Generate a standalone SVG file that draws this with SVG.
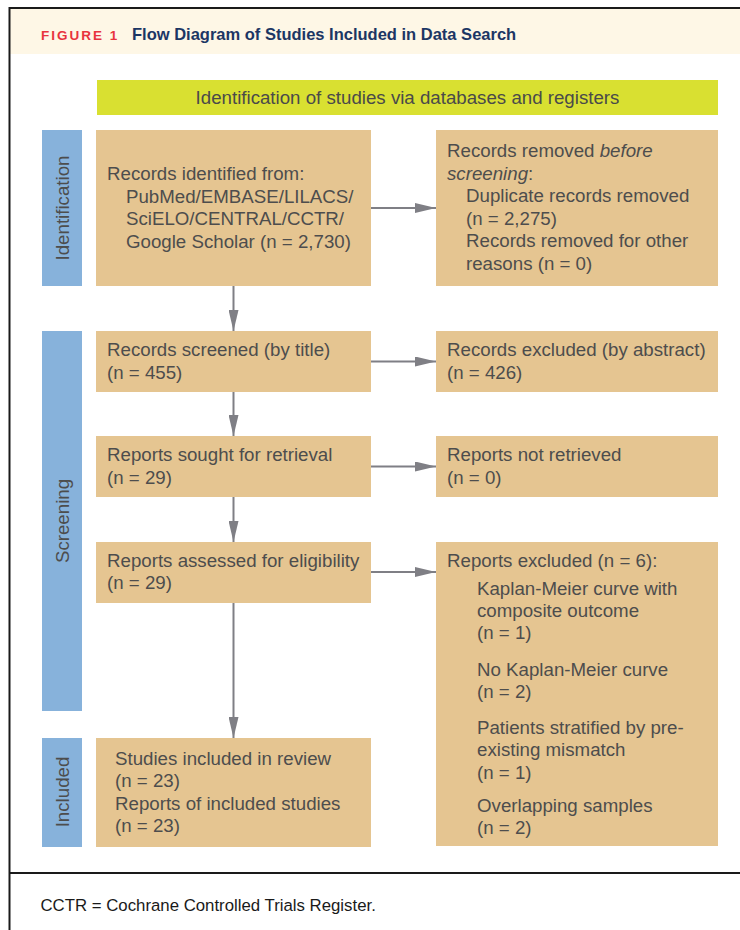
<svg xmlns="http://www.w3.org/2000/svg" width="740" height="930" viewBox="0 0 740 930">
<style>
  text { font-family: "Liberation Sans", Arial, sans-serif; }
  .box { fill: #E5C591; }
  .side { fill: #87B2DB; }
  .t { font-size: 18.7px; fill: #4D4D4D; }
  .side-t { font-size: 18.7px; fill: #4D4D4D; text-anchor: middle; }
  .conn { stroke: #7F7F85; stroke-width: 2; fill: none; }
</style>
<defs>
  <marker id="arr" viewBox="0 0 21 10" refX="21" refY="5" markerWidth="21" markerHeight="10" markerUnits="userSpaceOnUse" orient="auto">
    <path d="M0,0 L21,5 L0,10 z" fill="#7F7F85"/>
  </marker>
</defs>
<rect x="0" y="0" width="740" height="930" fill="#FFFFFF"/>
<g id="frame">
  <rect x="10" y="9" width="730" height="45" fill="#FEF7E6"/>
  <line x1="9" y1="8" x2="740" y2="8" stroke="#1A1A1A" stroke-width="2"/>
  <line x1="9.5" y1="7" x2="9.5" y2="930" stroke="#1A1A1A" stroke-width="2"/>
  <line x1="9" y1="873" x2="740" y2="873" stroke="#1A1A1A" stroke-width="2"/>
</g>
<g id="title">
  <text x="41" y="39.5" font-size="13.5px" font-weight="bold" fill="#E8333D" letter-spacing="2">FIGURE 1</text>
  <text x="132" y="39.5" font-size="16.5px" font-weight="bold" fill="#1C3664">Flow Diagram of Studies Included in Data Search</text>
</g>
<g id="banner">
  <rect x="97" y="80" width="621" height="35" fill="#D9E031"/>
  <text x="407.5" y="103.5" font-size="18.7px" fill="#4A4A4A" text-anchor="middle">Identification of studies via databases and registers</text>
</g>
<g id="phase-identification">
  <rect class="side" x="42" y="130" width="40" height="156"/>
  <text class="side-t" transform="translate(68.5,208) rotate(-90)">Identification</text>
</g>
<g id="phase-screening">
  <rect class="side" x="42" y="331" width="40" height="380"/>
  <text class="side-t" transform="translate(69,521) rotate(-90)">Screening</text>
</g>
<g id="phase-included">
  <rect class="side" x="42" y="738" width="40" height="109"/>
  <text class="side-t" transform="translate(68.5,792) rotate(-90)">Included</text>
</g>
<g id="records-identified">
  <rect class="box" x="96" y="130" width="275" height="156"/>
  <text class="t" x="107" y="180">Records identified from:</text>
  <text class="t" x="126" y="202.5">PubMed/EMBASE/LILACS/</text>
  <text class="t" x="126" y="225">SciELO/CENTRAL/CCTR/</text>
  <text class="t" x="126" y="247.5">Google Scholar (n = 2,730)</text>
</g>
<g id="records-removed">
  <rect class="box" x="436" y="130" width="282" height="156"/>
  <text class="t" x="447" y="157">Records removed <tspan font-style="italic">before</tspan></text>
  <text class="t" x="447" y="179.5"><tspan font-style="italic">screening</tspan>:</text>
  <text class="t" x="466" y="202">Duplicate records removed</text>
  <text class="t" x="466" y="224.5">(n = 2,275)</text>
  <text class="t" x="466" y="247">Records removed for other</text>
  <text class="t" x="466" y="269.5">reasons (n = 0)</text>
</g>
<g id="records-screened">
  <rect class="box" x="96" y="331" width="275" height="61"/>
  <text class="t" x="107" y="356">Records screened (by title)</text>
  <text class="t" x="107" y="378.5">(n = 455)</text>
</g>
<g id="records-excluded">
  <rect class="box" x="436" y="331" width="282" height="61"/>
  <text class="t" x="447" y="356">Records excluded (by abstract)</text>
  <text class="t" x="447" y="378.5">(n = 426)</text>
</g>
<g id="reports-sought">
  <rect class="box" x="96" y="436" width="275" height="61"/>
  <text class="t" x="107" y="461">Reports sought for retrieval</text>
  <text class="t" x="107" y="483.5">(n = 29)</text>
</g>
<g id="reports-not-retrieved">
  <rect class="box" x="436" y="436" width="282" height="61"/>
  <text class="t" x="447" y="461">Reports not retrieved</text>
  <text class="t" x="447" y="483.5">(n = 0)</text>
</g>
<g id="reports-assessed">
  <rect class="box" x="96" y="542" width="275" height="61"/>
  <text class="t" x="107" y="566.5">Reports assessed for eligibility</text>
  <text class="t" x="107" y="589">(n = 29)</text>
</g>
<g id="reports-excluded">
  <rect class="box" x="436" y="542" width="282" height="304"/>
  <text class="t" x="447" y="566.5">Reports excluded (n = 6):</text>
  <text class="t" x="477" y="594.5">Kaplan-Meier curve with</text>
  <text class="t" x="477" y="616.5">composite outcome</text>
  <text class="t" x="477" y="639">(n = 1)</text>
  <text class="t" x="477" y="676">No Kaplan-Meier curve</text>
  <text class="t" x="477" y="698">(n = 2)</text>
  <text class="t" x="477" y="734">Patients stratified by pre-</text>
  <text class="t" x="477" y="756">existing mismatch</text>
  <text class="t" x="477" y="778.5">(n = 1)</text>
  <text class="t" x="477" y="811.5">Overlapping samples</text>
  <text class="t" x="477" y="834">(n = 2)</text>
</g>
<g id="studies-included">
  <rect class="box" x="96" y="738" width="275" height="109"/>
  <text class="t" x="115" y="764.5">Studies included in review</text>
  <text class="t" x="115" y="787">(n = 23)</text>
  <text class="t" x="115" y="809.5">Reports of included studies</text>
  <text class="t" x="115" y="832">(n = 23)</text>
</g>
<g id="connectors">
  <line class="conn" x1="371" y1="208" x2="436" y2="208" marker-end="url(#arr)"/>
  <line class="conn" x1="233.5" y1="286" x2="233.5" y2="331" marker-end="url(#arr)"/>
  <line class="conn" x1="371" y1="361.5" x2="436" y2="361.5" marker-end="url(#arr)"/>
  <line class="conn" x1="233.5" y1="392" x2="233.5" y2="436" marker-end="url(#arr)"/>
  <line class="conn" x1="371" y1="466.5" x2="436" y2="466.5" marker-end="url(#arr)"/>
  <line class="conn" x1="233.5" y1="497" x2="233.5" y2="542" marker-end="url(#arr)"/>
  <line class="conn" x1="371" y1="572" x2="436" y2="572" marker-end="url(#arr)"/>
  <line class="conn" x1="233.5" y1="603" x2="233.5" y2="738" marker-end="url(#arr)"/>
</g>
<g id="footer">
  <text x="40.5" y="911" font-size="16.8px" fill="#1A1A1A">CCTR = Cochrane Controlled Trials Register.</text>
</g>
</svg>
